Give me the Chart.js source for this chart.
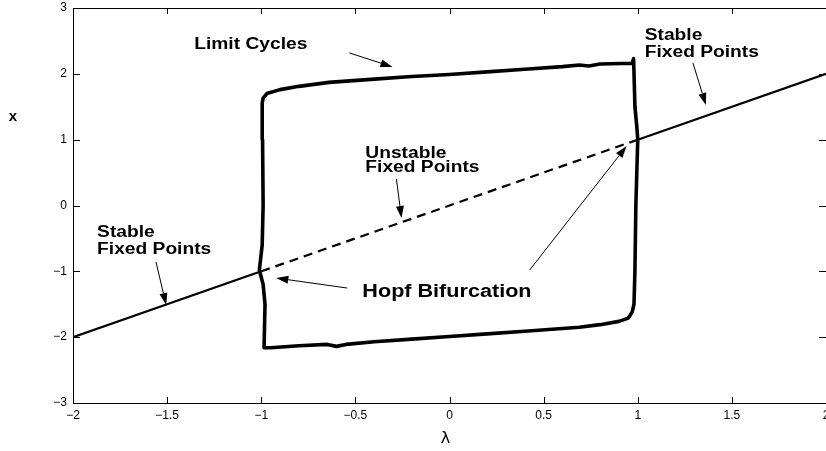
<!DOCTYPE html>
<html>
<head>
<meta charset="utf-8">
<script src="https://cdn.jsdelivr.net/npm/chart.js@4"></script>
<style>
  html, body { margin: 0; padding: 0; background: #fff; }
  #wrap { width: 826px; height: 451px; }
</style>
</head>
<body>
<div id="wrap"><canvas id="bif"></canvas></div>
<script>
// axis ranges and ticks
const lambdaTicks = [-2, -1.5, -1, -0.5, 0, 0.5, 1, 1.5, 2];
const xTicks = [-3, -2, -1, 0, 1, 2, 3];

// fixed point branches (lambda, x)
const stableLeftLambda = [-2, -1];
const stableLeftX = [-2, -1];
const unstableLambda = [-1, 1];
const unstableX = [-1, 1];
const stableRightLambda = [1, 2];
const stableRightX = [1, 2];

// limit cycle, traced as a closed loop
const cycleLambda = [-0.995, -0.99, -0.97, -0.9, -0.8, -0.64, -0.4, -0.2, 0, 0.2, 0.4, 0.6, 0.69, 0.74, 0.8, 0.97, 0.978,
  0.985, 0.995, 1.0, 0.995, 0.99, 0.985, 0.98, 0.97, 0.95, 0.9, 0.8, 0.69, 0.4, 0.2, 0, -0.2, -0.4, -0.55, -0.6, -0.65, -0.8, -0.95, -0.985,
  -0.98, -0.99, -1.01, -0.995, -0.99, -0.993, -0.995];
const cycleX = [1.56, 1.63, 1.7, 1.76, 1.81, 1.87, 1.92, 1.96, 1.99, 2.03, 2.07, 2.11, 2.135, 2.12, 2.15, 2.16, 2.23,
  1.5, 1.2, 1.0, 0.5, 0, -1.0, -1.5, -1.62, -1.71, -1.76, -1.81, -1.85, -1.91, -1.95, -1.99, -2.03, -2.07, -2.11, -2.14, -2.11, -2.13, -2.16, -2.16,
  -1.5, -1.2, -0.98, -0.6, 0, 1.0, 1.56];

// annotation texts, anchored at (lambda, x) = left baseline
const noteTexts = ['Limit Cycles', 'Stable', 'Fixed Points', 'Unstable', 'Fixed Points', 'Stable', 'Fixed Points', 'Hopf Bifurcation'];
const noteLambda = [-1.356, 1.037, 1.037, -0.447, -0.447, -1.872, -1.872, -0.463];
const noteX = [2.378, 2.515, 2.257, 0.722, 0.509, -0.479, -0.737, -1.39];

// arrows: tail -> head
const arrowFromLambda = [-0.532, 1.293, -0.282, -1.559, -0.543, 0.426];
const arrowFromX = [2.318, 2.166, 0.403, -0.859, -1.254, -0.98];
const arrowToLambda = [-0.303, 1.362, -0.255, -1.505, -0.92, 0.941];
const arrowToX = [2.105, 1.527, -0.19, -1.512, -1.102, 0.904];

const pts = (ls, xs) => ls.map((l, i) => ({ x: l, y: xs[i] }));
const fmt = v => (v < 0 ? '\u2212' + Math.abs(v) : String(v));

function stretchText(ctx, text, x, y, sx) {
    ctx.save();
    ctx.translate(x, y);
    ctx.scale(sx, 1);
    ctx.fillText(text, 0, 0);
    ctx.restore();
}

const frame = {
    id: 'frame',
    afterDraw(chart) {
        const ctx = chart.ctx;
        const a = chart.chartArea;
        const sx = chart.scales.x, sy = chart.scales.y;
        ctx.save();
        ctx.strokeStyle = '#000';
        ctx.lineWidth = 1;
        ctx.strokeRect(a.left + 0.5, a.top + 0.5, a.right - a.left, a.bottom - a.top);
        // inward ticks on all four sides
        ctx.beginPath();
        lambdaTicks.slice(1, -1).forEach(v => {
            const p = Math.round(sx.getPixelForValue(v)) + 0.5;
            ctx.moveTo(p, a.bottom); ctx.lineTo(p, a.bottom - 6);
            ctx.moveTo(p, a.top); ctx.lineTo(p, a.top + 6);
        });
        xTicks.slice(1, -1).forEach(v => {
            const p = Math.round(sy.getPixelForValue(v)) + 0.5;
            ctx.moveTo(a.left, p); ctx.lineTo(a.left + 7, p);
            ctx.moveTo(a.right, p); ctx.lineTo(a.right - 7, p);
        });
        ctx.stroke();

        // annotations
        ctx.fillStyle = '#000';
        ctx.textBaseline = 'alphabetic';
        ctx.textAlign = 'left';
        noteTexts.forEach((t, i) => {
            const big = t.startsWith('Hopf');
            ctx.font = big ? 'bold 18px "Liberation Sans"' : 'bold 16px "Liberation Sans"';
            stretchText(ctx, t, sx.getPixelForValue(noteLambda[i]), sy.getPixelForValue(noteX[i]), big ? 1.2 : 1.2);
        });

        // arrows
        ctx.lineWidth = 1;
        arrowFromLambda.forEach((_, i) => {
            const x0 = sx.getPixelForValue(arrowFromLambda[i]), y0 = sy.getPixelForValue(arrowFromX[i]);
            const x1 = sx.getPixelForValue(arrowToLambda[i]), y1 = sy.getPixelForValue(arrowToX[i]);
            const ang = Math.atan2(y1 - y0, x1 - x0);
            const len = 12, half = 4;
            const bx = x1 - len * Math.cos(ang), by = y1 - len * Math.sin(ang);
            ctx.beginPath();
            ctx.moveTo(x0, y0); ctx.lineTo(bx, by);
            ctx.stroke();
            ctx.beginPath();
            ctx.moveTo(x1, y1);
            ctx.lineTo(bx + half * Math.sin(ang), by - half * Math.cos(ang));
            ctx.lineTo(bx - half * Math.sin(ang), by + half * Math.cos(ang));
            ctx.closePath();
            ctx.fill();
        });

        // axis titles
        ctx.font = 'bold 15px "Liberation Sans"';
        ctx.textAlign = 'center';
        ctx.textBaseline = 'middle';
        ctx.fillText('x', 13, 117);
        ctx.font = '16px "DejaVu Sans"';
        ctx.fillText('\u03bb', (a.left + a.right) / 2 - 4, 439);
        ctx.restore();
    }
};

new Chart(document.getElementById('bif').getContext('2d'), {
    type: 'scatter',
    data: {
        datasets: [
            { data: pts(stableLeftLambda, stableLeftX), borderWidth: 2.2 },
            { data: pts(unstableLambda, unstableX), borderWidth: 2.2, borderDash: [9, 6] },
            { data: pts(stableRightLambda, stableRightX), borderWidth: 2.2 },
            { data: pts(cycleLambda, cycleX), borderWidth: 3.6 }
        ].map(d => Object.assign({
            showLine: true,
            fill: false,
            tension: 0,
            pointRadius: 0,
            pointHoverRadius: 0,
            borderColor: '#000',
            borderJoinStyle: 'round',
            borderCapStyle: 'butt'
        }, d))
    },
    options: {
        responsive: true,
        maintainAspectRatio: false,
        animation: false,
        events: [],
        layout: { padding: { top: 8, right: 0, left: 0, bottom: 0 } },
        plugins: { legend: { display: false }, tooltip: { enabled: false } },
        scales: {
            x: {
                type: 'linear',
                min: -2, max: 2,
                grid: { display: false, drawTicks: false },
                border: { display: false },
                afterBuildTicks: s => { s.ticks = lambdaTicks.map(v => ({ value: v })); },
                afterFit: s => { s.height = 48; s.paddingLeft = 0; s.paddingRight = 0; },
                ticks: {
                    autoSkip: false, maxRotation: 0,
                    color: '#000', padding: 5,
                    font: { family: 'Liberation Sans', size: 12 },
                    callback: v => fmt(v)
                }
            },
            y: {
                type: 'linear',
                min: -3, max: 3,
                grid: { display: false, drawTicks: false },
                border: { display: false },
                afterBuildTicks: s => { s.ticks = xTicks.map(v => ({ value: v })); },
                afterFit: s => { s.width = 73; s.paddingTop = 0; s.paddingBottom = 0; },
                ticks: {
                    autoSkip: false,
                    color: '#000', padding: 6,
                    font: { family: 'Liberation Sans', size: 12 },
                    callback: v => fmt(v)
                }
            }
        }
    },
    plugins: [frame]
});
</script>
</body>
</html>
